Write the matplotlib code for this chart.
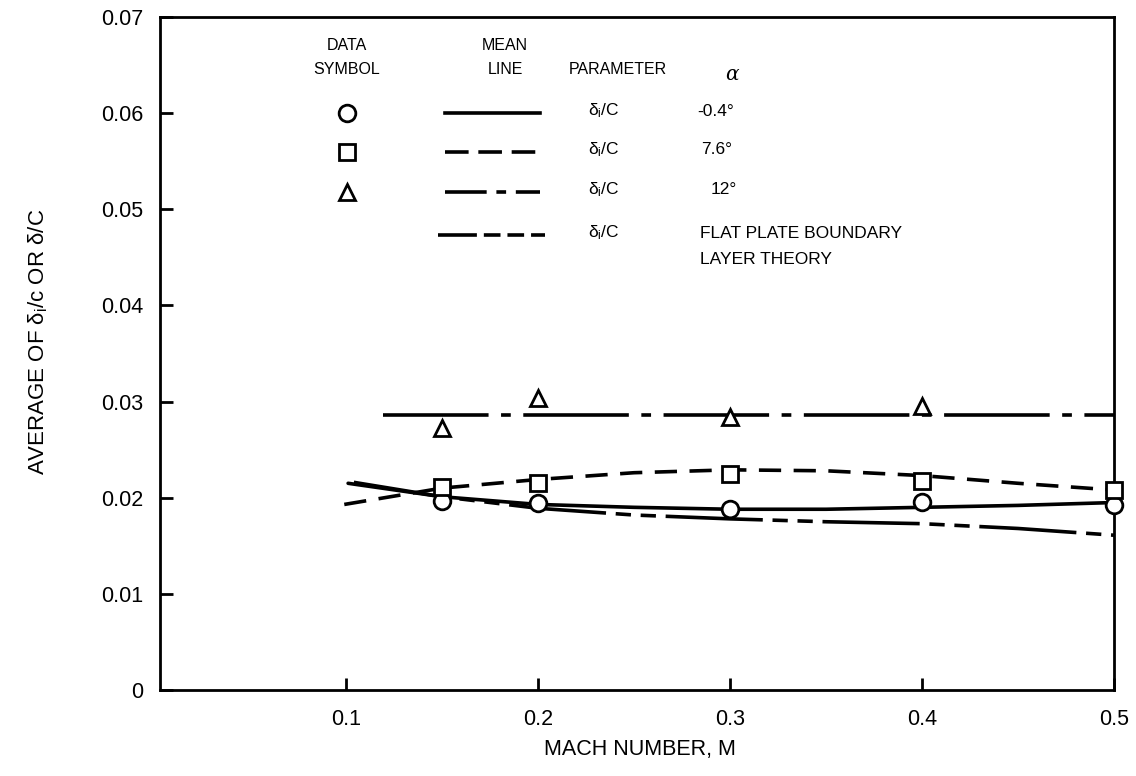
import matplotlib
matplotlib.use("Agg")
import matplotlib.pyplot as plt
from matplotlib.lines import Line2D

plt.rcParams['font.family'] = ['Liberation Sans', 'DejaVu Sans']
plt.rcParams['mathtext.default'] = 'regular'
plt.rcParams['lines.scale_dashes'] = False

# ---- data points ----
mach_pts = [0.15, 0.2, 0.3, 0.4, 0.5]
circle_vals = [0.0197, 0.0194, 0.0188, 0.0196, 0.0192]      # alpha = -0.4 deg
square_vals = [0.0211, 0.0215, 0.0225, 0.0217, 0.0208]      # alpha = 7.6 deg
tri_mach = [0.15, 0.2, 0.3, 0.4]
tri_vals = [0.0272, 0.0304, 0.0284, 0.0295]                 # alpha = 12 deg

# ---- mean lines ----
solid_mach = [0.101, 0.15, 0.2, 0.25, 0.3, 0.35, 0.4, 0.45, 0.5]
solid_vals = [0.0215, 0.0201, 0.0193, 0.0190, 0.0188, 0.0188, 0.0190, 0.0192, 0.0195]
dashed_mach = [0.099, 0.15, 0.2, 0.25, 0.3, 0.35, 0.4, 0.45, 0.5]
dashed_vals = [0.0193, 0.0210, 0.0219, 0.0226, 0.0229, 0.0228, 0.0223, 0.0215, 0.0208]
dashdot_mach = [0.119, 0.5]
dashdot_vals = [0.0286, 0.0286]
flat_mach = [0.104, 0.15, 0.2, 0.25, 0.3, 0.35, 0.4, 0.45, 0.5]
flat_vals = [0.0216, 0.0201, 0.0189, 0.0182, 0.0178, 0.0175, 0.0173, 0.0168, 0.0161]

xticks = [0.1, 0.2, 0.3, 0.4, 0.5]
xticklabels = ['0.1', '0.2', '0.3', '0.4', '0.5']
yticks = [0, 0.01, 0.02, 0.03, 0.04, 0.05, 0.06, 0.07]
yticklabels = ['0', '0.01', '0.02', '0.03', '0.04', '0.05', '0.06', '0.07']

W, H = 1136, 776
fig = plt.figure(figsize=(W / 100, H / 100), dpi=100)
L, R, T, B = 160, 1114, 17, 690
ax = fig.add_axes([L / W, 1 - B / H, (R - L) / W, (B - T) / H])

lw = 2.6
DASH = (0, (16, 9))
DASHDOT = (0, (76, 9, 7, 9))
FLAT = (0, (70, 7, 11, 7, 11, 7))

ax.plot(solid_mach, solid_vals, color='black', lw=lw, solid_capstyle='round')
ax.plot(dashed_mach, dashed_vals, color='black', lw=lw, linestyle=DASH)
ax.plot(dashdot_mach, dashdot_vals, color='black', lw=lw, linestyle=DASHDOT)
ax.plot(flat_mach, flat_vals, color='black', lw=lw, linestyle=FLAT)

mk = dict(markerfacecolor='white', markeredgecolor='black', markeredgewidth=2.0,
          linestyle='none', zorder=5, clip_on=False)
ax.plot(mach_pts, circle_vals, marker='o', markersize=12, **mk)
ax.plot(mach_pts, square_vals, marker='s', markersize=11, **mk)
ax.plot(tri_mach, tri_vals, marker='^', markersize=12, **mk)

ax.set_xlim(0.003, 0.5)
ax.set_ylim(0, 0.07)
ax.set_xticks(xticks)
ax.set_xticklabels(xticklabels)
ax.set_yticks(yticks)
ax.set_yticklabels(yticklabels)
ax.tick_params(direction='in', length=9, width=2, labelsize=15.5, color='black')
ax.tick_params(axis='y', pad=12)
ax.tick_params(axis='x', pad=14)
for s in ax.spines.values():
    s.set_linewidth(2)

ax.set_xlabel('MACH NUMBER, M', fontsize=15.5)
ax.xaxis.set_label_coords((640 - L) / (R - L), (B - 750) / (B - T), transform=ax.transAxes)
ax.xaxis.label.set_va('center')
ax.set_ylabel('AVERAGE OF δ$_{i}$/c OR δ/C', fontsize=16)
ax.yaxis.set_label_coords((38 - L) / (R - L), (B - 342) / (B - T), transform=ax.transAxes)
ax.yaxis.label.set_va('center')

# ---- tabular legend (pixel positions) ----
def fx(x):
    return x / W

def fy(y):
    return 1 - y / H

fs = 11.5
fs_row = 12.5
for txt, x, y in [('DATA', 347, 46), ('SYMBOL', 347, 70), ('MEAN', 505, 46),
                  ('LINE', 505, 70), ('PARAMETER', 618, 70)]:
    fig.text(fx(x), fy(y), txt, ha='center', va='center', fontsize=fs)
fig.text(fx(732), fy(74), 'α', ha='center', va='center', fontsize=fs + 3,
         family=['DejaVu Serif'], style='italic')

rows_y = [113, 152, 192, 235]
markers = ['o', 's', '^']
msizes = [12, 11, 12]
for y, m, ms in zip(rows_y[:3], markers, msizes):
    fig.add_artist(Line2D([fx(347)], [fy(y)], marker=m, markersize=ms,
                          markerfacecolor='white', markeredgecolor='black',
                          markeredgewidth=2.0, linestyle='none'))

leg_styles = ['-', (0, (17, 7)), (0, (30, 7, 7, 7)), (0, (28, 5, 12, 5, 12, 5))]
leg_x = [(445, 540), (445, 540), (445, 540), (438, 545)]
for y, ls, (x0, x1) in zip(rows_y, leg_styles, leg_x):
    fig.add_artist(Line2D([fx(x0), fx(x1)], [fy(y), fy(y)], color='black',
                          lw=lw, linestyle=ls))
    fig.text(fx(588), fy(y - 2), 'δ$_{i}$/C', ha='left', va='center', fontsize=fs_row)

alpha_labels = ['-0.4°', '7.6°', '12°']
alpha_x = [697, 701, 711]
for y, t, x in zip(rows_y[:3], alpha_labels, alpha_x):
    fig.text(fx(x), fy(y - 2), t, ha='left', va='center', fontsize=fs_row)
fig.text(fx(700), fy(233), 'FLAT PLATE BOUNDARY', ha='left', va='center', fontsize=fs_row)
fig.text(fx(700), fy(260), 'LAYER THEORY', ha='left', va='center', fontsize=fs_row)

fig.savefig('out.png', dpi=100)
